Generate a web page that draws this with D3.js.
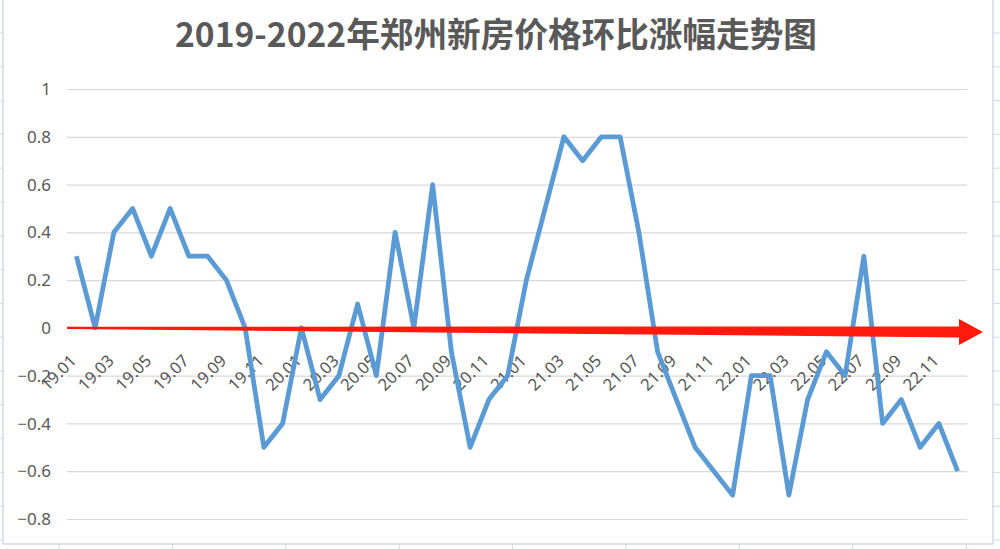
<!DOCTYPE html>
<html>
<head>
<meta charset="utf-8">
<script src="https://cdn.jsdelivr.net/npm/d3@7"></script>
<style>
  html, body { margin: 0; padding: 0; background: #ffffff; }
  svg { display: block; }
</style>
</head>
<body>
<div id="chart"></div>
<script>
// ---- data ----
const title = "2019-2022年郑州新房价格环比涨幅走势图";
const years = ["19", "20", "21", "22"];
const months = ["01","02","03","04","05","06","07","08","09","10","11","12"];
const categories = years.flatMap(y => months.map(m => y + "." + m));
const values = [
  0.3, 0.0, 0.4, 0.5, 0.3, 0.5, 0.3, 0.3, 0.2, 0.0, -0.5, -0.4,
  0.0, -0.3, -0.2, 0.1, -0.2, 0.4, 0.0, 0.6, -0.1, -0.5, -0.3, -0.2,
  0.2, 0.5, 0.8, 0.7, 0.8, 0.8, 0.4, -0.1, -0.3, -0.5, -0.6, -0.7,
  -0.2, -0.2, -0.7, -0.3, -0.1, -0.2, 0.3, -0.4, -0.3, -0.5, -0.4, -0.6
];
const yTicks = [1, 0.8, 0.6, 0.4, 0.2, 0, -0.2, -0.4, -0.6, -0.8];
const xTickLabels = categories.filter((d, i) => i % 2 === 0);

// ---- layout ----
const W = 1000, H = 549;
const svg = d3.select("#chart").append("svg").attr("width", W).attr("height", H);

const x = d3.scaleBand().domain(categories).range([67, 967]);
const y = d3.scaleLinear().domain([-0.8, 1]).range([519, 89]);
const cx = d => x(d) + x.bandwidth() / 2;

// spreadsheet cell frame behind chart
const frameCol = "#d3d8e3";
const frame = svg.append("g");
const rowH = 33.8, colW = 113.4;
frame.append("line").attr("x1", 3).attr("x2", 3).attr("y1", 0).attr("y2", 544).attr("stroke", frameCol).attr("stroke-width", 1.5);
frame.append("line").attr("x1", 993).attr("x2", 993).attr("y1", 0).attr("y2", 544).attr("stroke", frameCol).attr("stroke-width", 1.5);
frame.append("line").attr("x1", 3).attr("x2", 993).attr("y1", 544).attr("y2", 544).attr("stroke", frameCol).attr("stroke-width", 1.5);
d3.range(33, 544, rowH).forEach(r => {
  frame.append("line").attr("x1", 0).attr("x2", 3).attr("y1", r).attr("y2", r).attr("stroke", frameCol);
  frame.append("line").attr("x1", 993).attr("x2", 1000).attr("y1", r).attr("y2", r).attr("stroke", frameCol);
});
d3.range(59, 993, colW).forEach(c => {
  frame.append("line").attr("x1", c).attr("x2", c).attr("y1", 544).attr("y2", 549).attr("stroke", frameCol);
});

// title
svg.append("text")
  .attr("x", 496).attr("y", 47)
  .attr("text-anchor", "middle")
  .attr("font-family", "'Noto Sans CJK SC', sans-serif")
  .attr("font-weight", "bold")
  .attr("font-size", 34)
  .attr("fill", "#595959")
  .attr("textLength", 642)
  .attr("lengthAdjust", "spacingAndGlyphs")
  .text(title);

// gridlines
svg.append("g")
  .attr("transform", "translate(67,0)")
  .call(d3.axisLeft(y).tickValues(yTicks).tickSize(-900).tickFormat(""))
  .call(g => g.select(".domain").remove())
  .call(g => g.selectAll(".tick line").attr("stroke", "#d9d9d9").attr("stroke-width", 1.2));

// y labels
svg.append("g")
  .selectAll("text").data(yTicks).join("text")
  .attr("x", 51).attr("y", d => y(d))
  .attr("dy", "0.36em")
  .attr("text-anchor", "end")
  .attr("font-family", "'Noto Sans', sans-serif")
  .attr("font-size", 17)
  .attr("fill", "#595959")
  .text(d => d3.format("")(d));

// x labels (rotated, at zero line)
svg.append("g")
  .selectAll("text").data(xTickLabels).join("text")
  .attr("transform", d => `translate(${cx(d) + 1},${y(0) + 34}) rotate(-45)`)
  .attr("text-anchor", "end")
  .attr("font-family", "'Noto Sans', sans-serif")
  .attr("font-size", 16.5)
  .attr("fill", "#555555")
  .text(d => d);

// data line
const line = d3.line().x((d, i) => cx(categories[i])).y(d => y(d));
svg.append("path")
  .datum(values)
  .attr("d", line)
  .attr("fill", "none")
  .attr("stroke", "#5b9bd5")
  .attr("stroke-width", 4.8)
  .attr("stroke-linejoin", "round")
  .attr("stroke-linecap", "butt");

// red arrow along zero line
const x0 = x.range()[0], x1 = x.range()[1];
const y0 = y(0);
const arrowPts = [
  [x0, y0 - 1.2],
  [x1 - 8, y0 - 1.5],
  [x1 - 8, y0 - 9],
  [x1 + 16, y0 + 4],
  [x1 - 8, y0 + 17],
  [x1 - 8, y0 + 9.5],
  [x0, y0 + 1.2]
];
svg.append("path")
  .attr("d", d3.line()(arrowPts) + "Z")
  .attr("fill", "#ff1a0d");
</script>
</body>
</html>
